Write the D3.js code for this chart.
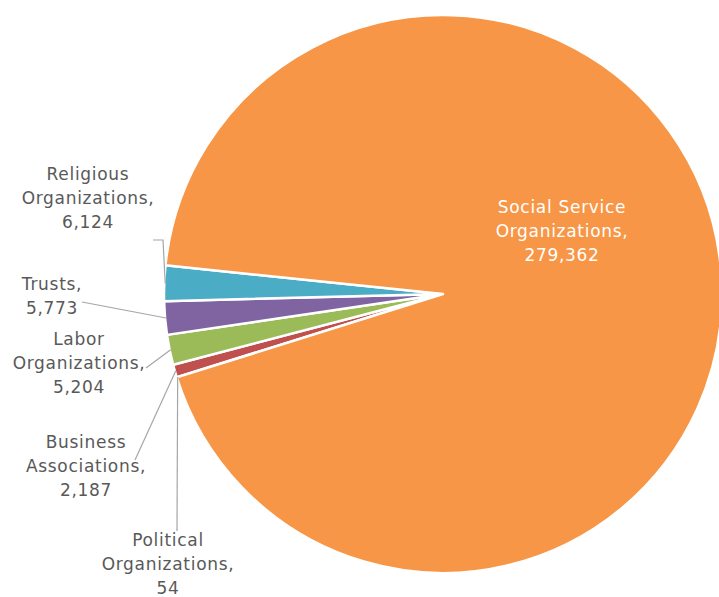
<!DOCTYPE html>
<html>
<head>
<meta charset="utf-8">
<script src="https://cdn.jsdelivr.net/npm/d3@7"></script>
<style>
  html, body { margin: 0; padding: 0; background: #ffffff; }
  svg { display: block; }
</style>
</head>
<body>
<svg id="chart" width="719" height="597"></svg>
<script>
// ---- Data ----
const categories = ["Political Organizations", "Business Associations", "Labor Organizations", "Trusts", "Religious Organizations", "Social Service Organizations"];
const values = [54, 2187, 5204, 5773, 6124, 279362];
const valueLabels = ["54", "2,187", "5,204", "5,773", "6,124", "279,362"];
const labelLines = [
  ["Political", "Organizations,", "54"],
  ["Business", "Associations,", "2,187"],
  ["Labor", "Organizations,", "5,204"],
  ["Trusts,", "5,773"],
  ["Religious", "Organizations,", "6,124"],
  ["Social Service", "Organizations,", "279,362"]
];
const colors = ["#4F81BD", "#C0504D", "#9BBB59", "#8064A2", "#4BACC6", "#F79646"];

// ---- Layout ----
const cx = 443, cy = 294, R = 279;
const startDeg = 252.6;
const labelPos = [
  {x: 168, y: 546, leader: [[177, 531]]},
  {x: 86, y: 448, leader: [[135, 460]]},
  {x: 79, y: 345, leader: [[146, 368]]},
  {x: 52, y: 290, leader: [[82, 302]]},
  {x: 88, y: 180, leader: [[153, 240], [163, 240]]},
  {x: 562, y: 213, leader: null}
];
const lineH = 24.2;

const svg = d3.select("#chart");
const data = values.map((v, i) => ({name: categories[i], value: v, i}));

const pie = d3.pie().sort(null).value(d => d.value)
  .startAngle(startDeg * Math.PI / 180)
  .endAngle(startDeg * Math.PI / 180 + 2 * Math.PI);
const arcs = pie(data);
const arc = d3.arc().innerRadius(0).outerRadius(R);

const g = svg.append("g").attr("transform", `translate(${cx},${cy})`);
g.selectAll("path.slice").data(arcs).join("path")
  .attr("class", "slice")
  .attr("d", arc)
  .attr("fill", d => colors[d.data.i])
  .attr("stroke", "#ffffff")
  .attr("stroke-width", 2.5)
  .attr("stroke-linejoin", "round");

// leader lines
arcs.forEach(a => {
  const p = labelPos[a.data.i];
  if (!p.leader) return;
  const mid = (a.startAngle + a.endAngle) / 2;
  const ex = cx + (R - 1) * Math.sin(mid);
  const ey = cy - (R - 1) * Math.cos(mid);
  const pts = p.leader.concat([[ex, ey]]);
  svg.append("path")
    .attr("d", d3.line()(pts))
    .attr("fill", "none")
    .attr("stroke", "#a6a6a6")
    .attr("stroke-width", 1.2);
});

// labels
data.forEach(d => {
  const p = labelPos[d.i];
  const t = svg.append("text")
    .attr("x", p.x).attr("y", p.y)
    .attr("text-anchor", "middle")
    .attr("font-family", "'DejaVu Sans', sans-serif")
    .attr("font-size", 17)
    .attr("letter-spacing", 0.7)
    .attr("fill", d.i === 5 ? "#ffffff" : "#595959");
  labelLines[d.i].forEach((ln, k) => {
    t.append("tspan").attr("x", p.x).attr("dy", k === 0 ? 0 : lineH).text(ln);
  });
});
</script>
</body>
</html>
